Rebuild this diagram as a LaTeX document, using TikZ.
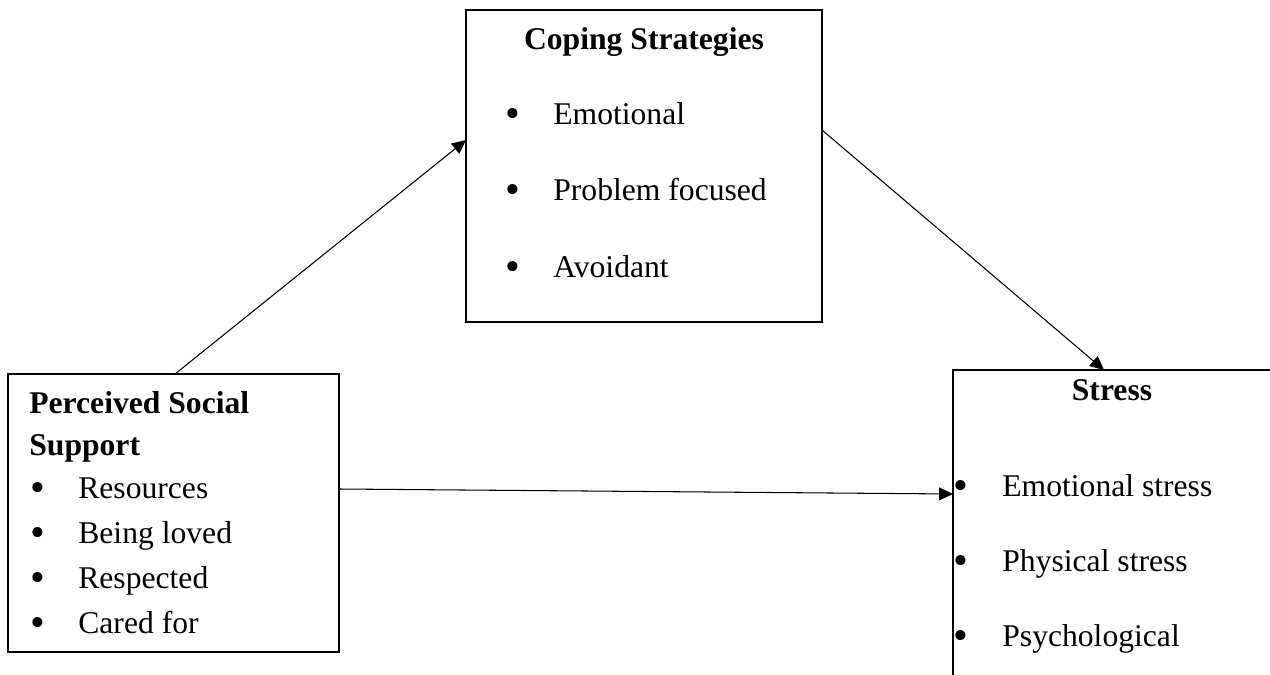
\documentclass[tikz,border=0pt]{standalone}
\usepackage{fontspec}
\setmainfont{Liberation Serif}
\usetikzlibrary{arrows.meta}

\tikzset{
  box/.style={draw, thick, line width=0.85pt, rectangle, inner sep=0pt, outer sep=0pt},
  txt/.style={inner sep=0pt, anchor=base west, font=\fontsize{18}{22}\selectfont},
  dot/.style={inner sep=0pt, anchor=base, yshift=-0.06cm, font=\fontsize{24}{28}\selectfont},
  head/.style={inner sep=0pt, font=\fontsize{18}{22}\selectfont\bfseries},
  link/.style={line width=0.6pt, -{Triangle[length=0.28cm,width=0.26cm]}}
}

\begin{document}
\begin{tikzpicture}[x=0.02cm,y=0.02cm]
\clip (0,0) rectangle (1270,675);
% boxes
\node[box, minimum width=6.62cm, minimum height=5.56cm] (pss) at (173.5,162) {};
\node[box, minimum width=7.12cm, minimum height=6.24cm] (cope) at (644,509) {};
\node[box, minimum width=6.44cm, minimum height=6.6cm] (stress) at (1114,140) {};
% perceived social support
\node[head, anchor=base west] (psst1) at (29,261) {Perceived Social};
\node[head, anchor=base west] (psst2) at (29,219) {Support};
\node[dot] (pb1) at (38,176) {\textbullet};
\node[txt] (pi1) at (78,176) {Resources};
\node[dot] (pb2) at (38,131) {\textbullet};
\node[txt] (pi2) at (78,131) {Being loved};
\node[dot] (pb3) at (38,86) {\textbullet};
\node[txt] (pi3) at (78,86) {Respected};
\node[dot] (pb4) at (38,41) {\textbullet};
\node[txt] (pi4) at (78,41) {Cared for};
% coping strategies
\node[head, anchor=base] (copet) at (644,625) {Coping Strategies};
\node[dot] (cb1) at (513,550) {\textbullet};
\node[txt] (ci1) at (553,550) {Emotional};
\node[dot] (cb2) at (513,474) {\textbullet};
\node[txt] (ci2) at (553,474) {Problem focused};
\node[dot] (cb3) at (513,397) {\textbullet};
\node[txt] (ci3) at (553,397) {Avoidant};
% stress
\node[head, anchor=base] (stresst) at (1112,274) {Stress};
\node[dot] (sb1) at (961,178) {\textbullet};
\node[txt] (si1) at (1002,178) {Emotional stress};
\node[dot] (sb2) at (961,103) {\textbullet};
\node[txt] (si2) at (1002,103) {Physical stress};
\node[dot] (sb3) at (961,28) {\textbullet};
\node[txt] (si3) at (1002,28) {Psychological};
% arrows
\draw[link] ([xshift=0.03cm]pss.north) -- ([yshift=0.52cm]cope.west);
\draw[link] ([yshift=0.72cm]cope.east) -- ([xshift=-0.2cm]stress.north);
\draw[link] ([yshift=0.48cm]pss.east) -- ([yshift=0.82cm]stress.west);
\end{tikzpicture}
\end{document}
